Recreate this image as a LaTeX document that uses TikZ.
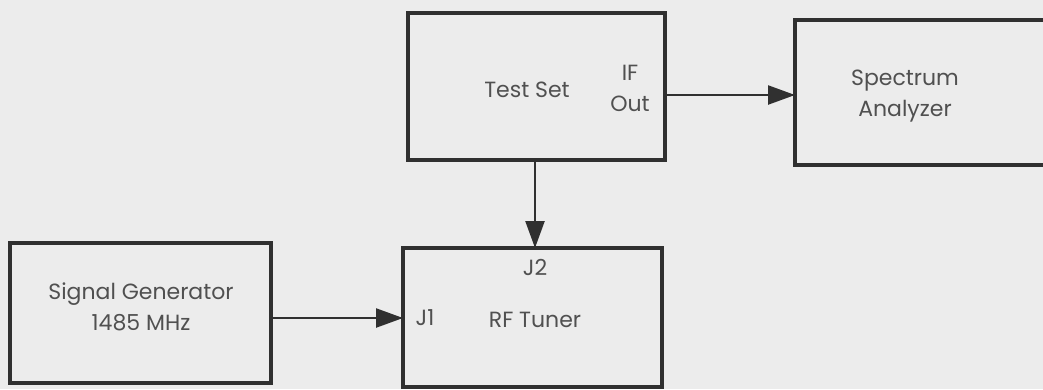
\documentclass[tikz,border=0pt]{standalone}
\usepackage{fontspec}
\setmainfont{Poppins}
\usetikzlibrary{arrows.meta}
\definecolor{bg}{HTML}{ECECEC}
\definecolor{ln}{HTML}{303030}
\definecolor{tx}{HTML}{505050}
\begin{document}
\begin{tikzpicture}[x=1pt,y=-1pt,
  blk/.style={draw=ln,line width=3.2pt},
  lbl/.style={text=tx,font=\fontsize{22}{31}\selectfont,align=center,inner sep=0pt},
  conn/.style={draw=ln,line width=2.4pt,-{Triangle[length=27pt,width=19pt]}}]
\fill[bg] (0,0) rectangle (1043,389);
\useasboundingbox (0,0) rectangle (1043,389);
\draw[blk] (408,13) rectangle (665,160);
\coordinate (tsR) at (665,95);
\coordinate (tsB) at (535,160);
\draw[blk] (795,20) rectangle (1050,165);
\coordinate (saL) at (795,95);
\draw[blk] (10,243) rectangle (271,383);
\coordinate (sgR) at (271,318);
\draw[blk] (403,248) rectangle (662,387);
\coordinate (rfL) at (403,318);
\coordinate (rfT) at (535,248);
\node[lbl] (ts) at (527,90) {Test Set};
\node[lbl] (if) at (630,88) {IF\\Out};
\node[lbl] (sa) at (905,96) {Spectrum\\Analyzer};
\node[lbl] (sg) at (141,307) {Signal Generator\\1485 MHz};
\node[lbl] (j2) at (535,267) {J2};
\node[lbl] (j1) at (425,318) {J1};
\node[lbl] (rf) at (535,320) {RF Tuner};
\draw[conn] (tsR) -- (saL);
\draw[conn] (tsB) -- (rfT);
\draw[conn] (sgR) -- (rfL);
\end{tikzpicture}
\end{document}
